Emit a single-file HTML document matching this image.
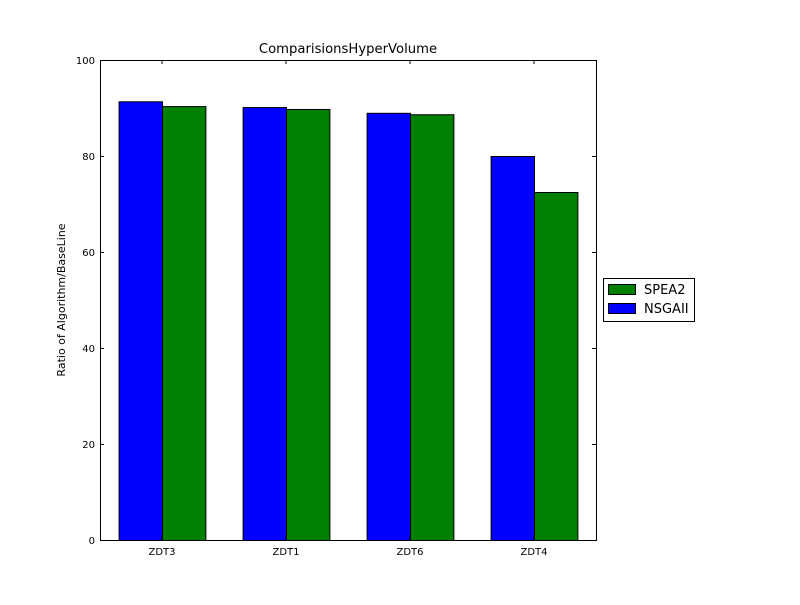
<!DOCTYPE html>
<html><head><meta charset="utf-8"><style>
body{margin:0;background:#fff;}
svg text{font-family:"DejaVu Sans","Liberation Sans",sans-serif;}
</style></head><body>
<svg id="chart" width="800" height="600" xmlns="http://www.w3.org/2000/svg">
<rect width="800" height="600" fill="#fff"/>
<g id="bars"></g>
<g id="axes"></g>
<text x="348" y="53" font-size="13.2" text-anchor="middle">ComparisionsHyperVolume</text>
<text transform="translate(65,300) rotate(-90)" font-size="11" text-anchor="middle">Ratio of Algorithm/BaseLine</text>
<g>
<rect x="603.5" y="278.5" width="91" height="43" fill="#fff" stroke="#000"/>
<rect x="608.5" y="284.5" width="27" height="10" fill="#008000" stroke="#000"/>
<text x="644" y="294" font-size="13">SPEA2</text>
<rect x="608.5" y="303.5" width="27" height="10" fill="#0000ff" stroke="#000"/>
<text x="644" y="313" font-size="13">NSGAII</text>
</g>
</svg>
<script>
const categories = ["ZDT3","ZDT1","ZDT6","ZDT4"];
const nsgaii = [91.4, 90.2, 89.0, 80.0];
const spea2 = [90.4, 89.8, 88.7, 72.5];
const yTicks = [0,20,40,60,80,100];
const NS="http://www.w3.org/2000/svg";
const L=100,R=596,T=60,B=540;
const y=v=>B-(v/100)*(B-T);
const groupW=(R-L)/categories.length;
const barW=groupW*0.35;
const x=i=>L+groupW*i+groupW*0.15;
const bars=document.getElementById('bars'), axes=document.getElementById('axes');
function mk(tag,attrs,parent){const e=document.createElementNS(NS,tag);for(const k in attrs)e.setAttribute(k,attrs[k]);parent.appendChild(e);return e;}
categories.forEach((c,i)=>{
  const b=mk('rect',{x:x(i)+0.5,y:y(nsgaii[i])+0.5,width:barW,height:B-y(nsgaii[i]),fill:'#0000ff',stroke:'#000'},bars);
  
  
  const g=mk('rect',{x:x(i)+barW+0.5,y:y(spea2[i])+0.5,width:barW,height:B-y(spea2[i]),fill:'#008000',stroke:'#000'},bars);
  
  
  const cx=x(i)+barW;
  mk('line',{x1:cx,x2:cx,y1:B,y2:B-4,stroke:'#000'},axes);
  mk('line',{x1:cx,x2:cx,y1:T,y2:T+4,stroke:'#000'},axes);
  const t=mk('text',{x:cx,y:B+15,'font-size':10,'text-anchor':'middle'},axes);
  t.textContent=c;
  
  
});
yTicks.forEach(v=>{
  const yy=Math.round(y(v))+0.5;
  mk('line',{x1:L,x2:L+4,y1:yy,y2:yy,stroke:'#000'},axes);
  mk('line',{x1:R,x2:R-4,y1:yy,y2:yy,stroke:'#000'},axes);
  const t=mk('text',{x:L-5,y:yy+3.5,'font-size':10,'text-anchor':'end'},axes);
  t.textContent=v;
  
  
});
const f=mk('rect',{x:L+0.5,y:T+0.5,width:R-L,height:B-T,fill:'none',stroke:'#000'},axes);


</script>
</body></html>
